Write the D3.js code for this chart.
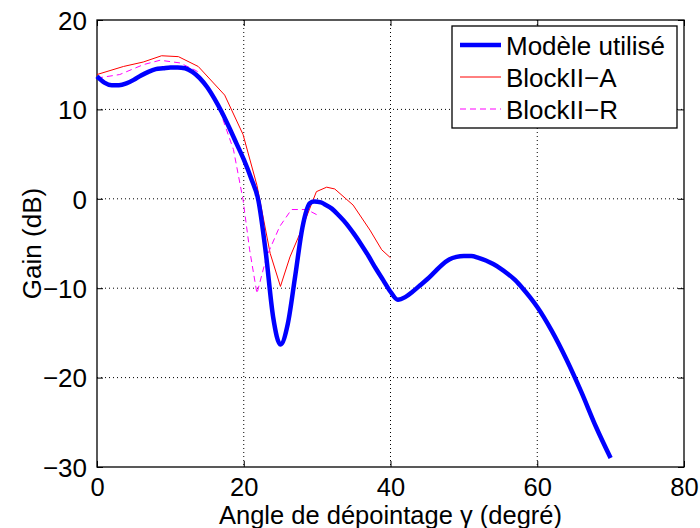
<!DOCTYPE html>
<html><head><meta charset="utf-8">
<script src="https://cdn.jsdelivr.net/npm/d3@7"></script>
<style>body{margin:0;background:#fff}svg{display:block}text{font-family:"Liberation Sans",Arial,sans-serif;fill:#000}</style>
</head><body>
<svg id="c" width="700" height="528"></svg>
<script>
const xTicks = [0, 20, 40, 60, 80];
const yTicks = [-30, -20, -10, 0, 10, 20];
const seriesNames = ["Modèle utilisé", "BlockII\u2212A", "BlockII\u2212R"];

const modeleX = [0,1,2,3,4,5,6,7,8,9,10,11,12,13,14,15,16,17,18,19,20,21,22,23,24,25,26,27,28,29,29.6,30.5,31,32,33,34,35,36,37,38,39,40,41,42,43,44,45,46,47,48,49,50,51,52,53,54,55,56,57,58,59,60,62,64,66,68,70];
const modeleY = [13.7,13.0,12.7,12.7,12.9,13.3,13.8,14.2,14.5,14.6,14.7,14.7,14.6,14.2,13.5,12.5,11.2,9.7,8.0,6.2,4.4,2.3,-0.2,-6.0,-13.2,-16.3,-14.0,-8.7,-3.2,-0.5,-0.3,-0.4,-0.6,-1.1,-1.9,-2.8,-3.9,-5.1,-6.4,-7.8,-9.1,-10.4,-11.3,-11.0,-10.4,-9.7,-9.0,-8.2,-7.4,-6.8,-6.5,-6.4,-6.4,-6.6,-6.9,-7.3,-7.8,-8.4,-9.1,-10.0,-11.0,-12.1,-14.8,-18.0,-21.6,-25.5,-29.0];

const blockAX = [0,3.6,6.3,8.8,11.1,13.8,17.4,19.9,21.8,23.6,25.0,26.3,27.7,29.9,31.3,32.4,34.9,37.2,38.8,40];
const blockAY = [13.9,14.8,15.3,16.0,15.9,14.8,11.6,7.2,1.5,-6.1,-9.8,-6.5,-3.8,0.8,1.3,1.1,-0.7,-3.5,-5.7,-6.6];

const blockRX = [0,3.1,6.3,8.6,11.3,13.6,16.3,18.6,19.9,20.8,21.8,23.1,24.9,26.5,28.6,30];
const blockRY = [13.5,13.9,15.0,15.5,15.2,14.3,10.9,5.5,-0.1,-5.7,-10.6,-6.5,-3.1,-1.2,-1.2,-1.8];

const W = 700, H = 528;
const m = {l: 97, r: 684, t: 20, b: 467};
const x = d3.scaleLinear().domain([0, 80]).range([m.l, m.r]);
const y = d3.scaleLinear().domain([-30, 20]).range([m.b, m.t]);
const svg = d3.select("#c");
const FS = 26;

// grid
const g = svg.append("g");
g.selectAll(".gx").data(xTicks.slice(1, -1)).join("line")
  .attr("x1", d => x(d)).attr("x2", d => x(d)).attr("y1", m.t).attr("y2", m.b)
  .attr("stroke", "#000").attr("stroke-width", 1).attr("stroke-dasharray", "1,3");
g.selectAll(".gy").data(yTicks.slice(1, -1)).join("line")
  .attr("y1", d => y(d)).attr("y2", d => y(d)).attr("x1", m.l).attr("x2", m.r)
  .attr("stroke", "#000").attr("stroke-width", 1).attr("stroke-dasharray", "1,3");

// axes with inward ticks
const fmt = d3.format("d");
const axB = svg.append("g").attr("transform", `translate(0,${m.b})`)
  .call(d3.axisBottom(x).tickValues(xTicks).tickSizeInner(-6).tickSizeOuter(0).tickPadding(12).tickFormat(fmt));
const axL = svg.append("g").attr("transform", `translate(${m.l},0)`)
  .call(d3.axisLeft(y).tickValues(yTicks).tickSizeInner(-6).tickSizeOuter(0).tickPadding(10).tickFormat(fmt));
const axT = svg.append("g").attr("transform", `translate(0,${m.t})`)
  .call(d3.axisTop(x).tickValues(xTicks).tickSizeInner(-6).tickSizeOuter(0).tickFormat(""));
const axR = svg.append("g").attr("transform", `translate(${m.r},0)`)
  .call(d3.axisRight(y).tickValues(yTicks).tickSizeInner(-6).tickSizeOuter(0).tickFormat(""));
[axB, axL, axT, axR].forEach(a => {
  a.select(".domain").remove();
  a.selectAll("line").attr("stroke", "#000");
  a.selectAll("text").style("font-size", FS + "px").style("font-family", "Liberation Sans, Arial, sans-serif").attr("fill", "#000");
});
axB.selectAll("text").attr("dy", null).attr("y", 29).style("font-size", "25.5px");
axL.selectAll("text").attr("dy", "0.36em");
svg.append("rect").attr("x", m.l).attr("y", m.t).attr("width", m.r - m.l).attr("height", m.b - m.t)
  .attr("fill", "none").attr("stroke", "#000").attr("stroke-width", 1.3);

// lines
const lineGen = d3.line().x(d => x(d[0])).y(d => y(d[1]));
const modele = d3.zip(modeleX, modeleY);
const blockA = d3.zip(blockAX, blockAY);
const blockR = d3.zip(blockRX, blockRY);
svg.append("path").datum(blockA).attr("d", lineGen).attr("fill", "none").attr("stroke", "#ff0000").attr("stroke-width", 1);
svg.append("path").datum(blockR).attr("d", lineGen).attr("fill", "none").attr("stroke", "#ff00ff").attr("stroke-width", 1).attr("stroke-dasharray", "6,4");
svg.append("path").datum(modele).attr("d", d3.line().x(d => x(d[0])).y(d => y(d[1])).curve(d3.curveMonotoneX))
  .attr("fill", "none").attr("stroke", "#0000ff").attr("stroke-width", 4.5).attr("stroke-linejoin", "round");

// axis labels
svg.append("text").attr("x", 390.5).attr("y", 524).attr("text-anchor", "middle").style("font-size", "25.5px")
  .text("Angle de dépointage γ (degré)");
svg.append("text").attr("transform", `translate(41,${(m.t + m.b) / 2}) rotate(-90)`).attr("text-anchor", "middle").style("font-size", FS + "px")
  .text("Gain (dB)");

// legend
const lg = svg.append("g");
lg.append("rect").attr("x", 452).attr("y", 26).attr("width", 225).attr("height", 102)
  .attr("fill", "#fff").attr("stroke", "#000").attr("stroke-width", 1.3);
const styles = [
  {c: "#0000ff", w: 4.5, d: null},
  {c: "#ff0000", w: 1, d: null},
  {c: "#ff00ff", w: 1, d: "6,4"}
];
seriesNames.forEach((n, i) => {
  const yy = 45 + i * 32;
  lg.append("line").attr("x1", 460).attr("x2", 501).attr("y1", yy).attr("y2", yy)
    .attr("stroke", styles[i].c).attr("stroke-width", styles[i].w).attr("stroke-dasharray", styles[i].d);
  lg.append("text").attr("x", 506).attr("y", yy + 10).style("font-size", FS + "px").text(n);
});
</script>
</body></html>
